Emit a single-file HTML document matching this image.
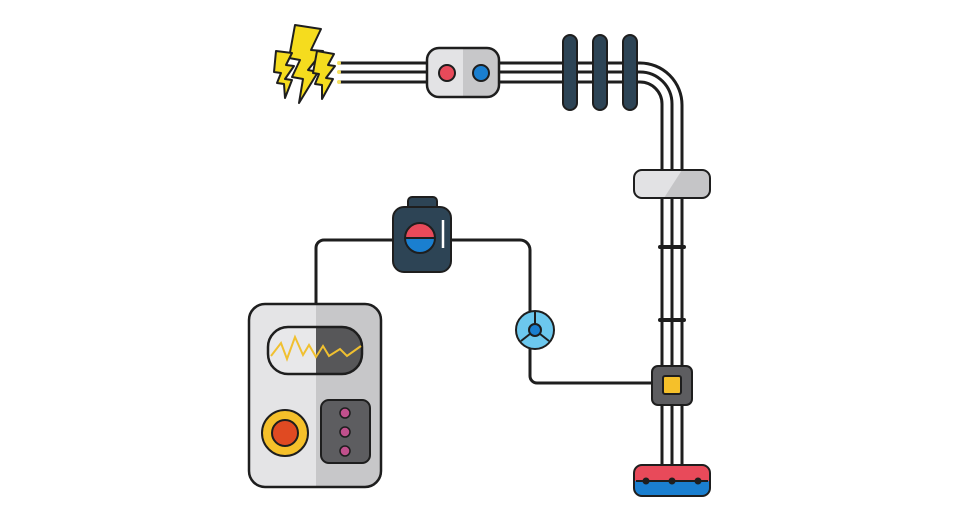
<!DOCTYPE html>
<html><head><meta charset="utf-8"><style>html,body{margin:0;padding:0;background:#fff}svg{display:block}</style></head>
<body>
<svg width="960" height="520" viewBox="0 0 960 520" xmlns="http://www.w3.org/2000/svg">
<g fill="none" stroke="#1e1e1e" stroke-width="3">
  <path d="M340 63 H640 A42 42 0 0 1 682 105 V470"/>
  <path d="M340 72 H640 A32 32 0 0 1 672 104 V470"/>
  <path d="M340 82 H640 A22 22 0 0 1 662 104 V470"/>
</g>
<!-- bolts -->
<g fill="#f5dc1e" stroke="#1e1e1e" stroke-width="2" stroke-linejoin="round">
  <polygon points="295,25 321,29 311,50 323,51 308,70 318,72 299,103 303,79 292,77 300,60 289,58"/>
  <polygon points="276,51 292,53 286,65 294,66 285,79 292,80 285,98 284,84 277,83 281,73 274,72"/>
  <polygon points="317,51 334,54 328,65 335,66 326,78 333,79 322,99 322,85 315,84 319,74 313,73"/>
</g>
<g fill="#f5e060"><circle cx="339" cy="63" r="2"/><circle cx="339" cy="72" r="2"/><circle cx="339" cy="82" r="2"/></g>
<!-- switch -->
<rect x="427" y="48" width="72" height="49" rx="12" fill="#e3e3e5"/>
<path d="M463 48 H487 A12 12 0 0 1 499 60 V85 A12 12 0 0 1 487 97 H463 Z" fill="#c7c7c9"/>
<rect x="427" y="48" width="72" height="49" rx="12" fill="none" stroke="#1e1e1e" stroke-width="2.5"/>
<circle cx="447" cy="73" r="8" fill="#e84a5a" stroke="#1e1e1e" stroke-width="2"/>
<circle cx="481" cy="73" r="8" fill="#1a7fd0" stroke="#1e1e1e" stroke-width="2"/>
<!-- insulators -->
<g fill="#2d4455" stroke="#1e1e1e" stroke-width="2">
  <rect x="563" y="35" width="14" height="75" rx="7"/>
  <rect x="593" y="35" width="14" height="75" rx="7"/>
  <rect x="623" y="35" width="14" height="75" rx="7"/>
</g>
<!-- clamp -->
<rect x="634" y="170" width="76" height="28" rx="8" fill="#e2e2e4"/>
<path d="M682 170 H702 A8 8 0 0 1 710 178 V190 A8 8 0 0 1 702 198 H664 Z" fill="#c5c5c7"/>
<rect x="634" y="170" width="76" height="28" rx="8" fill="none" stroke="#1e1e1e" stroke-width="2"/>
<g stroke="#1e1e1e" stroke-width="4" stroke-linecap="round">
  <line x1="660" y1="247" x2="684" y2="247"/><line x1="660" y1="320" x2="684" y2="320"/>
</g>
<!-- small wires -->
<g fill="none" stroke="#1e1e1e" stroke-width="3">
  <path d="M316 305 V248 A8 8 0 0 1 324 240 H395"/>
  <path d="M450 240 H520 A10 10 0 0 1 530 250 V376 A7 7 0 0 0 537 383 H653"/>
</g>
<!-- device -->
<rect x="408" y="197" width="29" height="14" rx="4" fill="#2d4455" stroke="#1e1e1e" stroke-width="2"/>
<rect x="393" y="207" width="58" height="65" rx="11" fill="#2d4455" stroke="#1e1e1e" stroke-width="2"/>
<path d="M405 238 A15 15 0 0 1 435 238 Z" fill="#e84a5a"/>
<path d="M405 238 A15 15 0 0 0 435 238 Z" fill="#1a7fd0"/>
<circle cx="420" cy="238" r="15" fill="none" stroke="#1e1e1e" stroke-width="2"/>
<line x1="405" y1="238" x2="435" y2="238" stroke="#1e1e1e" stroke-width="2"/>
<line x1="443" y1="220" x2="443" y2="248" stroke="#fff" stroke-width="2.5"/>
<!-- sensor circle -->
<circle cx="535" cy="330" r="19" fill="#6cc8ee" stroke="#1e1e1e" stroke-width="2"/>
<g stroke="#1e1e1e" stroke-width="2"><line x1="535" y1="330" x2="535" y2="311"/><line x1="535" y1="330" x2="521" y2="341"/><line x1="535" y1="330" x2="549" y2="341"/></g>
<circle cx="535" cy="330" r="6" fill="#1a7fd0" stroke="#1e1e1e" stroke-width="2"/>
<!-- junction -->
<rect x="652" y="366" width="40" height="39" rx="6" fill="#5d5d60" stroke="#1e1e1e" stroke-width="2"/>
<rect x="663" y="376" width="18" height="18" rx="2" fill="#f5c02a" stroke="#1e1e1e" stroke-width="2"/>
<!-- base -->
<rect x="634" y="465" width="76" height="31" rx="8" fill="#1a7fd0"/>
<path d="M634 481 V473 A8 8 0 0 1 642 465 H702 A8 8 0 0 1 710 473 V481 Z" fill="#e84a5a"/>
<rect x="634" y="465" width="76" height="31" rx="8" fill="none" stroke="#1e1e1e" stroke-width="2"/>
<line x1="636" y1="481" x2="708" y2="481" stroke="#1e1e1e" stroke-width="2"/>
<g fill="#1e1e1e"><circle cx="646" cy="481" r="3.5"/><circle cx="672" cy="481" r="3.5"/><circle cx="698" cy="481" r="3.5"/></g>
<!-- meter -->
<rect x="249" y="304" width="132" height="183" rx="16" fill="#e4e4e6"/>
<path d="M316 304 H365 A16 16 0 0 1 381 320 V471 A16 16 0 0 1 365 487 H316 Z" fill="#c7c7c9"/>
<rect x="249" y="304" width="132" height="183" rx="16" fill="none" stroke="#1e1e1e" stroke-width="2.5"/>
<rect x="268" y="327" width="94" height="47" rx="20" fill="#e8e8ea"/>
<path d="M316 327 H342 A20 20 0 0 1 362 347 V354 A20 20 0 0 1 342 374 H316 Z" fill="#575759"/>
<rect x="268" y="327" width="94" height="47" rx="20" fill="none" stroke="#1e1e1e" stroke-width="2.5"/>
<polyline points="271,356 281,343 287,359 295,337 303,355 309,345 316,357 323,346 329,356 340,349 347,356 361,346" fill="none" stroke="#f0c030" stroke-width="2"/>
<circle cx="285" cy="433" r="23" fill="#f5c02a" stroke="#1e1e1e" stroke-width="2"/>
<circle cx="285" cy="433" r="13" fill="#e04a22" stroke="#1e1e1e" stroke-width="2"/>
<rect x="321" y="400" width="49" height="63" rx="8" fill="#5d5d60" stroke="#1e1e1e" stroke-width="2"/>
<g fill="#c0508c" stroke="#1e1e1e" stroke-width="1.5"><circle cx="345" cy="413" r="5"/><circle cx="345" cy="432" r="5"/><circle cx="345" cy="451" r="5"/></g>
</svg>
</body></html>
